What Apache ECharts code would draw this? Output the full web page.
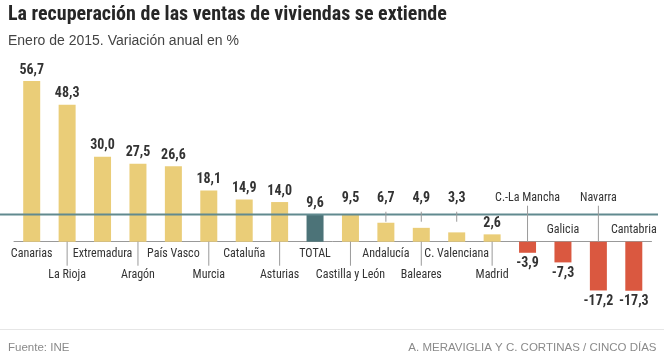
<!DOCTYPE html>
<html>
<head>
<meta charset="utf-8">
<script src="https://cdn.jsdelivr.net/npm/echarts@6/dist/echarts.min.js"></script>
<style>
html,body{margin:0;padding:0;background:#fff;}
#chart{width:664px;height:358px;}
</style>
</head>
<body>
<div id="chart"></div>
<script>
// ---- data ----
const categories = ['Canarias','La Rioja','Extremadura','Aragón','País Vasco','Murcia','Cataluña','Asturias','TOTAL','Castilla y León','Andalucía','Baleares','C. Valenciana','Madrid','C.-La Mancha','Galicia','Navarra','Cantabria'];
const values = [56.7,48.3,30.0,27.5,26.6,18.1,14.9,14.0,9.6,9.5,6.7,4.9,3.3,2.6,-3.9,-7.3,-17.2,-17.3];
const totalCategory = 'TOTAL';
const totalValue = 9.6;

// ---- layout (not data) ----
// category label placement: r1 = first row under axis, r2 = second row with leader,
// top = high row with leader down to axis, above = just above axis
const catPlace = ['r1','r2','r1','r2','r1','r2','r1','r2','r1','r2','r1','r2','r1','r2','top','above','top','above'];
// value labels lifted above the reference line (with short leader when not touching)
const raisedLabel = {9:false, 10:true, 11:true, 12:true};

const FONT_N = '"Liberation Sans Narrow","Arial Narrow","Roboto Condensed","Liberation Sans",sans-serif';
const FONT_R = '"Liberation Sans",Arial,sans-serif';
const C_POS = '#EACD78', C_TOT = '#4C7378', C_NEG = '#DA5840', C_REF = '#618A8F', C_LEAD = '#9a9a9a';

const fmt = v => v.toFixed(1).replace('.', ',');

const chart = echarts.init(document.getElementById('chart'), null, {renderer:'canvas'});

function annoItem(params, api) {
  const i = api.value(0);
  const v = values[i];
  const p0 = api.coord([i, 0]);
  const cx = p0[0], ay = p0[1];
  const children = [];
  const place = catPlace[i];
  const catFont = '12px ' + FONT_N;
  let ly;
  if (place === 'r1') ly = ay + 12;
  else if (place === 'r2') ly = ay + 33.5;
  else if (place === 'top') ly = ay - 43.5;
  else ly = ay - 11.5;
  children.push({type:'text', x:cx, y:ly, style:{text:categories[i], font:catFont, fill:'#333', align:'center', verticalAlign:'middle'}});
  if (place === 'r2') {
    children.push({type:'line', shape:{x1:cx, y1:ay, x2:cx, y2:ay+24}, style:{stroke:C_LEAD, lineWidth:1}});
  } else if (place === 'top') {
    children.push({type:'line', shape:{x1:cx, y1:ay-36, x2:cx, y2:ay}, style:{stroke:C_LEAD, lineWidth:1}});
  }
  if (i in raisedLabel) {
    children.push({type:'text', x:cx, y:ay-43.5, style:{text:fmt(v), font:'bold 14px ' + FONT_N, fill:'#333', align:'center', verticalAlign:'middle'}});
    if (raisedLabel[i]) {
      children.push({type:'line', shape:{x1:cx, y1:ay-30, x2:cx, y2:ay-20}, style:{stroke:C_LEAD, lineWidth:1}});
    }
  }
  return {type:'group', children};
}

function refLine(params, api) {
  const p = api.coord([0, api.value(1)]);
  return {type:'line', shape:{x1:0, y1:p[1], x2:658, y2:p[1]}, style:{stroke:C_REF, lineWidth:2}};
}

const option = {
  animation:false,
  backgroundColor:'#fff',
  title:[
    {text:'La recuperación de las ventas de viviendas se extiende', left:8, top:5, padding:0,
     textStyle:{fontFamily:FONT_N, fontWeight:'bold', fontSize:20, color:'#262626'}},
    {text:'Enero de 2015. Variación anual en %', left:8, top:34, padding:0,
     textStyle:{fontFamily:FONT_R, fontWeight:'normal', fontSize:14, color:'#444'}},
    {text:'Fuente: INE', left:8, top:341.5, padding:0,
     textStyle:{fontFamily:FONT_R, fontWeight:'normal', fontSize:11.5, color:'#8a8a8a'}},
    {text:'A. MERAVIGLIA Y C. CORTINAS / CINCO DÍAS', right:7.5, top:341.5, padding:0,
     textStyle:{fontFamily:FONT_R, fontWeight:'normal', fontSize:11.5, color:'#8a8a8a'}}
  ],
  graphic:[{type:'line', shape:{x1:0, y1:329.5, x2:664, y2:329.5}, style:{stroke:'#e6e6e6', lineWidth:1}}],
  grid:{left:14, right:12.5, top:71.7, bottom:59.6},
  xAxis:{type:'category', data:categories,
    axisLine:{show:true, lineStyle:{color:'#999', width:1}},
    axisTick:{show:false}, axisLabel:{show:false}, splitLine:{show:false}},
  yAxis:{type:'value', min:-20, max:60, show:false, splitLine:{show:false}},
  series:[
    {type:'bar', barWidth:17, z:2,
     data: values.map((v,i)=>({
       value:v,
       itemStyle:{color: categories[i]===totalCategory ? C_TOT : (v<0 ? C_NEG : C_POS)},
       label:{show: !(i in raisedLabel), position: v<0 ? 'bottom' : 'top', distance: 4}
     })),
     label:{formatter: p => fmt(p.value), fontFamily:FONT_N, fontWeight:'bold', fontSize:14, color:'#333'}
    },
    {type:'custom', z:5, clip:false, renderItem:refLine, data:[[totalCategory, totalValue]], silent:true},
    {type:'custom', z:6, clip:false, renderItem:annoItem, data: categories.map((c,i)=>[i]), silent:true}
  ]
};
chart.setOption(option);
</script>
</body>
</html>
